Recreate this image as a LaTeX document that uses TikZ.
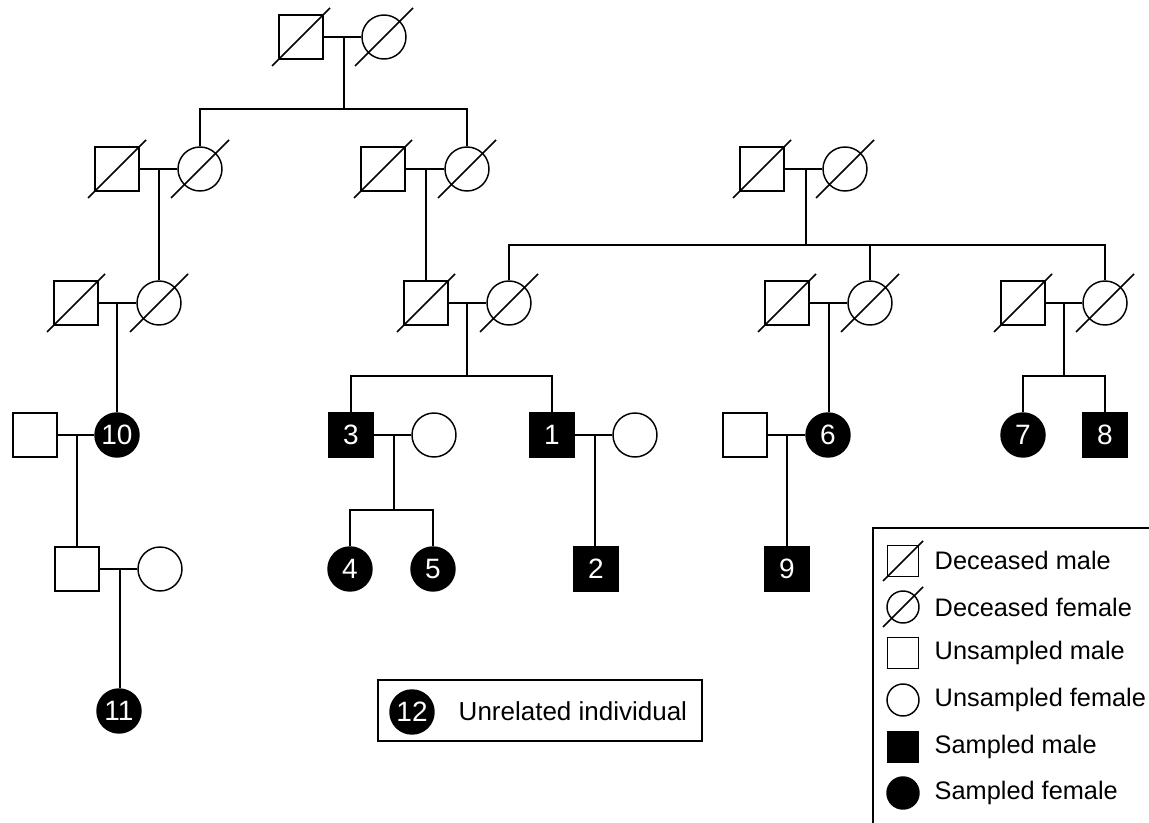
\documentclass[tikz,border=0pt]{standalone}
\usepackage{fontspec}
\setmainfont{Liberation Sans}
\usetikzlibrary{calc}
\newcommand{\deadmark}[2]{\draw ($(#1.center)+(-#2,#2)$) -- ($(#1.center)+(#2,-#2)$);}
\begin{document}
\begin{tikzpicture}[x=0.75pt,y=-0.75pt, line width=1.1pt,
  male/.style={draw, rectangle, minimum size=33pt, inner sep=0pt, fill=white},
  female/.style={draw, circle, minimum size=33pt, inner sep=0pt, fill=white},
  sampled/.style={fill=black, text=white, font=\fontsize{21}{22}\selectfont},
  lmale/.style={draw, rectangle, minimum size=23.25pt, inner sep=0pt},
  lfemale/.style={draw, circle, minimum size=24pt, inner sep=0pt},
  ltext/.style={anchor=west, inner sep=0pt, font=\fontsize{19}{22}\selectfont},
]
\useasboundingbox (0,0) rectangle (1149,823);

% Generation 1
\node[male] (m1) at (301,37) {};
\node[female] (f1) at (384,37) {};
% Generation 2
\node[male] (m2a) at (117,169) {};
\node[female] (f2a) at (200,169) {};
\node[male] (m2b) at (383,169) {};
\node[female] (f2b) at (467,169) {};
\node[male] (m2c) at (762,169) {};
\node[female] (f2c) at (845,169) {};
% Generation 3
\node[male] (m3a) at (76,303) {};
\node[female] (f3a) at (159,303) {};
\node[male] (m3b) at (426,303) {};
\node[female] (f3b) at (509,303) {};
\node[male] (m3c) at (787,303) {};
\node[female] (f3c) at (870,303) {};
\node[male] (m3d) at (1023,303) {};
\node[female] (f3d) at (1105,303) {};
% Generation 4
\node[male] (u4a) at (35,435) {};
\node[female, sampled] (s10) at (117,435) {10};
\node[male, sampled] (s3) at (351,435) {3};
\node[female] (u4b) at (434,435) {};
\node[male, sampled] (s1) at (552,435) {1};
\node[female] (u4c) at (635,435) {};
\node[male] (u4d) at (745,435) {};
\node[female, sampled] (s6) at (828,435) {6};
\node[female, sampled] (s7) at (1023,435) {7};
\node[male, sampled] (s8) at (1105,435) {8};
% Generation 5
\node[male] (u5a) at (77,569) {};
\node[female] (u5b) at (160,569) {};
\node[female, sampled] (s4) at (350,569) {4};
\node[female, sampled] (s5) at (433,569) {5};
\node[male, sampled] (s2) at (596,569) {2};
\node[male, sampled] (s9) at (787,569) {9};
% Generation 6
\node[female, sampled] (s11) at (119,711) {11};

% deceased marks
\foreach \n in {m1,f1,m2a,f2a,m2b,f2b,m2c,f2c,m3a,f3a,m3b,f3b,m3c,f3c,m3d,f3d}{\deadmark{\n}{29}}

% junction coordinates
\coordinate (c1) at (344,37);   \coordinate (b1) at (344,109);
\coordinate (c2a) at (159,169);
\coordinate (c2b) at (426,169);
\coordinate (c2c) at (806,169); \coordinate (b2c) at (806,245);
\coordinate (c3a) at (117,303);
\coordinate (c3b) at (467,303); \coordinate (b3b) at (467,376);
\coordinate (c3c) at (829,303);
\coordinate (c3d) at (1064,303); \coordinate (b3d) at (1064,376);
\coordinate (c4a) at (77,435);
\coordinate (c4b) at (394,435); \coordinate (b4b) at (394,510);
\coordinate (c4c) at (595,435);
\coordinate (c4d) at (787,435);
\coordinate (c5) at (120,569);

% marriages
\draw (m1.east) -- (f1.west);
\draw (m2a.east) -- (f2a.west);
\draw (m2b.east) -- (f2b.west);
\draw (m2c.east) -- (f2c.west);
\draw (m3a.east) -- (f3a.west);
\draw (m3b.east) -- (f3b.west);
\draw (m3c.east) -- (f3c.west);
\draw (m3d.east) -- (f3d.west);
\draw (u4a.east) -- (s10.west);
\draw (s3.east) -- (u4b.west);
\draw (s1.east) -- (u4c.west);
\draw (u4d.east) -- (s6.west);
\draw (u5a.east) -- (u5b.west);

% descents
\draw (c1) -- (b1);
\draw (f2a.north) |- (b1);
\draw (f2b.north) |- (b1);
\draw (c2a) -- (f3a.north);
\draw (c2b) -- (m3b.north);
\draw (c2c) -- (b2c);
\draw (f3b.north) |- (b2c);
\draw (f3d.north) |- (b2c);
\draw (f3c.north) -- (f3c.north |- b2c);
\draw (c3a) -- (s10.north);
\draw (c3b) -- (b3b);
\draw (s3.north) |- (b3b);
\draw (s1.north) |- (b3b);
\draw (c3c) -- (c3c |- s6.north);
\draw (c3d) -- (b3d);
\draw (s7.north) |- (b3d);
\draw (s8.north) |- (b3d);
\draw (c4a) -- (c4a |- u5a.north);
\draw (c4b) -- (b4b);
\draw (s4.north) |- (b4b);
\draw (s5.north) |- (b4b);
\draw (c4c) -- (c4c |- s2.north);
\draw (c4d) -- (s9.north);
\draw (c5) -- (c5 |- s11.north);

% unrelated individual box
\node[draw, rectangle, minimum width=243pt, minimum height=45.75pt, inner sep=0pt] (ubox) at (540,710.5) {};
\node[female, sampled] (s12) at (412,712) {12};
\node[anchor=west, inner sep=0pt, font=\fontsize{19.5}{22}\selectfont] (utext) at (458,711) {Unrelated individual};

% legend
\coordinate (lg1) at (873,823);
\coordinate (lg2) at (873,528);
\coordinate (lg3) at (1149,528);
\draw (lg1) -- (lg2) -- (lg3);
\node[lmale] (l1) at (903,561) {};
\deadmark{l1}{20}
\node[ltext] (t1) at (934,560) {Deceased male};
\node[lfemale] (l2) at (903,607) {};
\deadmark{l2}{20}
\node[ltext] (t2) at (934,607) {Deceased female};
\node[lmale] (l3) at (903,653) {};
\node[ltext] (t3) at (934,653) {Unsampled male};
\node[lfemale] (l4) at (903,700) {};
\node[ltext] (t4) at (934,700) {Unsampled female};
\node[lmale, fill=black] (l5) at (903,747) {};
\node[ltext] (t5) at (934,747) {Sampled male};
\node[lfemale, fill=black] (l6) at (903,793) {};
\node[ltext] (t6) at (934,793) {Sampled female};
\end{tikzpicture}
\end{document}
